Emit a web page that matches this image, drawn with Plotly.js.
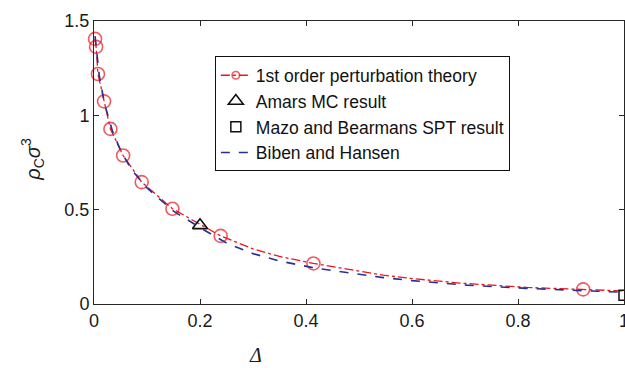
<!DOCTYPE html>
<html>
<head>
<meta charset="utf-8">
<script src="https://cdn.plot.ly/plotly-3.0.1.min.js"></script>
<style>html,body{margin:0;padding:0;background:#fff;}#chart{width:625px;height:368px;}</style>
</head>
<body>
<div id="chart"></div>
<script>
// 1st order perturbation theory (line points; markers shown where flagged)
const pertX = [0.002, 0.004, 0.0075, 0.019, 0.031, 0.055, 0.090, 0.148, 0.239, 0.30, 0.35, 0.414, 0.50, 0.546, 0.60, 0.69, 0.816, 0.923, 1.0];
const pertY = [1.405, 1.363, 1.219, 1.074, 0.928, 0.787, 0.646, 0.505, 0.361, 0.292, 0.252, 0.215, 0.172, 0.153, 0.135, 0.111, 0.088, 0.0776, 0.069];
const pertMarked = [1, 1, 1, 1, 1, 1, 1, 1, 1, 0, 0, 1, 0, 0, 0, 0, 0, 1, 0];
// Amars MC result
const mcX = [0.2];
const mcY = [0.417];
// Mazo and Bearmans SPT result
const sptX = [1.0];
const sptY = [0.046];
// Biben and Hansen
const bhX = [0.002, 0.01, 0.02, 0.035, 0.05, 0.07, 0.10, 0.15, 0.20, 0.25, 0.30, 0.35, 0.414, 0.50, 0.546, 0.60, 0.703, 0.816, 0.923, 1.0];
const bhY = [1.42, 1.21, 1.06, 0.915, 0.815, 0.715, 0.615, 0.492, 0.405, 0.323, 0.267, 0.228, 0.192, 0.157, 0.140, 0.124, 0.100, 0.083, 0.071, 0.062];

const xTickVals = [0, 0.2, 0.4, 0.6, 0.8, 1];
const xTickText = ['0', '0.2', '0.4', '0.6', '0.8', '1'];
const yTickVals = [0, 0.5, 1, 1.5];
const yTickText = ['0', '0.5', '1', '1.5'];

const RED = '#e8161d';
const BLUE = '#2b2e94';
const AX = '#262626';

const traces = [
  {
    x: pertX, y: pertY, type: 'scatter', mode: 'lines+markers',
    name: '1st order perturbation theory',
    line: {color: RED, width: 1.3, dash: 'dashdot'},
    marker: {symbol: 'circle-open', color: RED, size: pertMarked.map(m => m ? 13 : 0), line: {width: 1.6, color: RED}},
    cliponaxis: false
  },
  {
    x: mcX, y: mcY, type: 'scatter', mode: 'markers',
    name: 'Amars MC result',
    marker: {symbol: 'triangle-up-open', color: '#111', size: 13, line: {width: 1.6, color: '#111'}},
    cliponaxis: false
  },
  {
    x: sptX, y: sptY, type: 'scatter', mode: 'markers',
    name: 'Mazo and Bearmans SPT result',
    marker: {symbol: 'square-open', color: '#111', size: 10, line: {width: 1.5, color: '#111'}},
    cliponaxis: false
  },
  {
    x: bhX, y: bhY, type: 'scatter', mode: 'lines',
    name: 'Biben and Hansen',
    line: {color: BLUE, width: 1.6, dash: 'dash'}
  }
];

const axisCommon = {
  showgrid: false, zeroline: false, showline: true, linecolor: AX, linewidth: 1,
  mirror: 'ticks', ticks: 'inside', ticklen: 5, tickcolor: AX,
  ticklabeloverflow: 'allow',
  tickfont: {family: 'Liberation Sans, Arial, sans-serif', size: 18, color: '#1a1a1a'}
};

const layout = {
  width: 625, height: 368,
  margin: {l: 94, r: 1, t: 21, b: 64},
  paper_bgcolor: '#fff', plot_bgcolor: '#fff',
  showlegend: true,
  xaxis: Object.assign({}, axisCommon, {range: [0, 1], tickvals: xTickVals, ticktext: xTickText}),
  yaxis: Object.assign({}, axisCommon, {range: [0, 1.5], tickvals: yTickVals, ticktext: yTickText}),
  legend: {
    x: 0.228, y: 0.875, xanchor: 'left', yanchor: 'top',
    bordercolor: '#111', borderwidth: 1, bgcolor: '#fff',
    font: {family: 'Liberation Sans, Arial, sans-serif', size: 17.5, color: '#111'},
    itemwidth: 30, tracegroupgap: 0
  },
  annotations: [
    {
      text: '<i>ρ</i><sub>C</sub><i>σ</i><sup>3</sup>', xref: 'paper', yref: 'paper',
      x: -0.115, y: 0.51, xanchor: 'center', yanchor: 'middle', textangle: -90, showarrow: false,
      font: {family: 'Liberation Sans, Arial, sans-serif', size: 20, color: '#1a1a1a'}
    },
    {
      text: '<i>Δ</i>', xref: 'paper', yref: 'paper',
      x: 0.304, y: -0.18, xanchor: 'center', yanchor: 'middle', showarrow: false,
      font: {family: 'Liberation Serif, Times New Roman, serif', size: 20, color: '#1a1a1a'}
    }
  ]
};

Plotly.newPlot('chart', traces, layout, {displayModeBar: false, staticPlot: true});
</script>
</body>
</html>
